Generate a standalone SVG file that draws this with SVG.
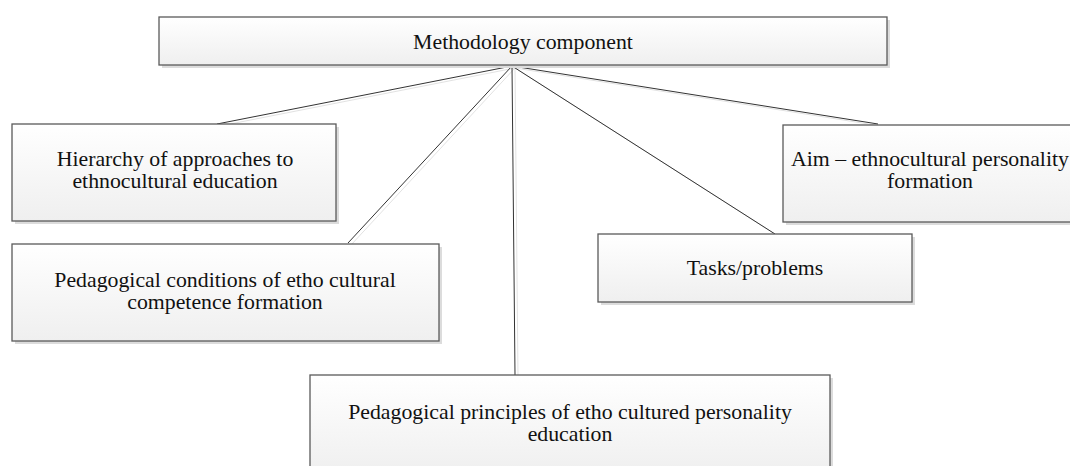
<svg xmlns="http://www.w3.org/2000/svg" width="1070" height="466" viewBox="0 0 1070 466">
<defs>
<linearGradient id="g" x1="0" y1="0" x2="0" y2="1">
<stop offset="0" stop-color="#ffffff"/>
<stop offset="1" stop-color="#efefef"/>
</linearGradient>
</defs>
<style>
.sh{fill:#dcdcdc;stroke:none}
.bx{fill:url(#g);stroke:#5a5a5a;stroke-width:1.3}
text{font-family:'Liberation Serif','DejaVu Serif',serif;font-size:21.8px;fill:#111;text-anchor:middle}
.c{stroke:#333;stroke-width:1;fill:none}
.cs{stroke:#e2e2e2;stroke-width:1;fill:none}
</style>
<rect width="1070" height="466" fill="#fff"/>
<g id="connectors">
<g transform="translate(3,2)">
<line class="cs" x1="512" y1="66" x2="217" y2="124"/>
<line class="cs" x1="512" y1="66" x2="348" y2="243"/>
<line class="cs" x1="512" y1="66" x2="515" y2="375"/>
<line class="cs" x1="512" y1="66" x2="775" y2="234"/>
<line class="cs" x1="512" y1="66" x2="878" y2="124"/>
</g>
<line class="c" x1="512" y1="66" x2="217" y2="124"/>
<line class="c" x1="512" y1="66" x2="348" y2="243"/>
<line class="c" x1="512" y1="66" x2="515" y2="375"/>
<line class="c" x1="512" y1="66" x2="775" y2="234"/>
<line class="c" x1="512" y1="66" x2="878" y2="124"/>
</g>
<g id="methodology">
<rect class="sh" x="162" y="20" width="728" height="48"/>
<rect class="bx" x="159" y="17" width="728" height="48"/>
<text x="523" y="49">Methodology component</text>
</g>
<g id="hierarchy">
<rect class="sh" x="15" y="127" width="324" height="97"/>
<rect class="bx" x="12" y="124" width="324" height="97"/>
<text x="175" y="166">Hierarchy of approaches to</text>
<text x="175" y="188">ethnocultural education</text>
</g>
<g id="conditions">
<rect class="sh" x="15" y="247" width="427" height="97"/>
<rect class="bx" x="12" y="244" width="427" height="97"/>
<text x="225" y="287">Pedagogical conditions of etho cultural</text>
<text x="225" y="309">competence formation</text>
</g>
<g id="aim">
<rect class="sh" x="786" y="128" width="294" height="97"/>
<rect class="bx" x="783" y="125" width="294" height="97"/>
<text x="930" y="166">Aim – ethnocultural personality</text>
<text x="930" y="188">formation</text>
</g>
<g id="tasks">
<rect class="sh" x="601" y="237" width="314" height="68"/>
<rect class="bx" x="598" y="234" width="314" height="68"/>
<text x="755" y="275">Tasks/problems</text>
</g>
<g id="principles">
<rect class="sh" x="313" y="378" width="520" height="100"/>
<rect class="bx" x="310" y="375" width="520" height="100"/>
<text x="570" y="419">Pedagogical principles of etho cultured personality</text>
<text x="570" y="441">education</text>
</g>
</svg>
